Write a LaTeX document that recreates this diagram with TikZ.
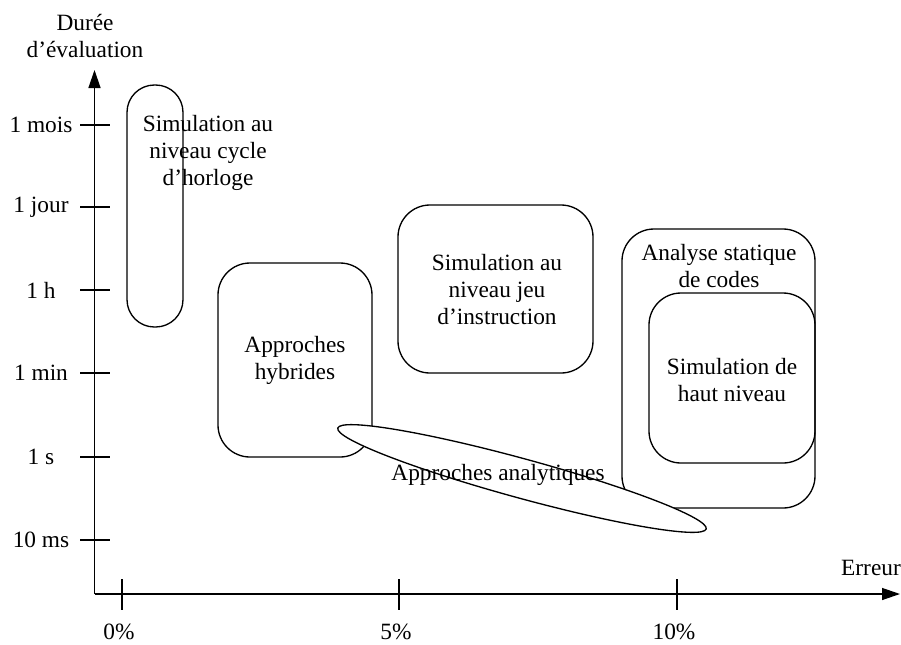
\documentclass[tikz,border=0pt]{standalone}
\usepackage{fontspec}
\setmainfont{Liberation Serif}
\usetikzlibrary{arrows.meta,shapes.geometric}
\begin{document}
\begin{tikzpicture}[x=0.75pt,y=-0.75pt, line width=1pt,
  every node/.style={font=\fontsize{17.5}{20.25}\selectfont, inner sep=0pt, outer sep=0pt},
  box/.style={draw, rectangle, rounded corners=24pt},
  lbl/.style={align=center},
  axisarrow/.style={-{Triangle[length=13.5pt,width=9pt]}}]
\useasboundingbox (0,0) rectangle (901,644);

% axes
\coordinate (O) at (94.5,594);
\coordinate (ytip) at (94.5,70);
\coordinate (xtip) at (900,594);
\draw[axisarrow] (O) -- (ytip);
\draw[axisarrow] (O) -- (xtip);

% axis titles
\node[lbl] (ytitle) at (85,36) {Durée\\d’évaluation};
\node (xtitle) at (871,568) {Erreur};

% y ticks
\foreach \y/\t/\n in {125/1 mois/a, 207/1 jour/b, 290/1 h/c, 373/1 min/d, 457/1 s/e, 540/10 ms/f}{
  \coordinate (yl\n) at (80,\y);
  \coordinate (yr\n) at (110,\y);
  \draw (yl\n) -- (yr\n);
  \node (ylab\n) at (41,\y) {\t};
}
% x ticks
\foreach \x/\t/\n in {122/0\%/a, 399/5\%/b, 677/10\%/c}{
  \coordinate (xt\n) at (\x,579);
  \coordinate (xb\n) at (\x,610);
  \draw (xt\n) -- (xb\n);
  \node (xlab\n) at (\x-3,632) {\t};
}

% shapes
\node[draw, rectangle, rounded corners=20.5pt, minimum width=42pt, minimum height=181.5pt] (cyc) at (155,206) {};
\node[box, minimum width=115.5pt, minimum height=145.5pt] (hyb) at (295,360) {};
\node[box, minimum width=146.25pt, minimum height=126pt] (jeu) at (495.5,289) {};
\node[box, minimum width=144.75pt, minimum height=209.25pt] (stat) at (718.5,368.5) {};
\node[box, minimum width=124.5pt, minimum height=127.5pt] (haut) at (732,378) {};
\node[draw, ellipse, fill=white, minimum width=286.5pt, minimum height=29.5pt, rotate=-15.3] (ana) at (522,478.5) {};

% texts
\node[lbl] (tcyc) at (208,153) {Simulation au\\niveau cycle\\d’horloge};
\node[lbl] (thyb) at (295,360) {Approches\\hybrides};
\node[lbl] (tjeu) at (497,290) {Simulation au\\niveau jeu\\d’instruction};
\node[lbl] (tstat) at (719,266) {Analyse statique\\de codes};
\node[lbl] (thaut) at (732,380) {Simulation de\\haut niveau};
\node (tana) at (498,475) {Approches analytiques};
\end{tikzpicture}
\end{document}
